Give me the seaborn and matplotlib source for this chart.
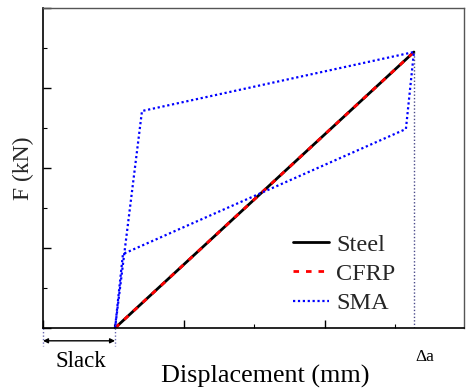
import matplotlib
matplotlib.use("Agg")
import matplotlib.pyplot as plt
from matplotlib.ticker import MultipleLocator, NullFormatter
import seaborn as sns
import pandas as pd

# Load-displacement paths (normalised units)
steel_x = [0.511, 2.631]
steel_y = [0.0, 3.45]
cfrp_x = [0.511, 2.631]
cfrp_y = [0.0, 3.45]
sma_x = [0.511, 0.702, 2.631, 2.574, 0.567, 0.511]
sma_y = [0.0, 2.7125, 3.45, 2.4875, 0.925, 0.0]

slack_start = 0.0
slack_end = 0.511
delta_a = 2.631

sns.set_theme(style="ticks")
plt.rcParams["font.family"] = ["Liberation Serif", "DejaVu Serif"]

fig = plt.figure(figsize=(4.66, 3.89), dpi=100)
ax = fig.add_axes([0.0923, 0.1568, 0.9034, 0.8226])

df = pd.concat([
    pd.DataFrame({"x": steel_x, "y": steel_y, "Material": "Steel", "order": range(len(steel_x))}),
    pd.DataFrame({"x": cfrp_x, "y": cfrp_y, "Material": "CFRP", "order": range(len(cfrp_x))}),
    pd.DataFrame({"x": sma_x, "y": sma_y, "Material": "SMA", "order": range(len(sma_x))}),
], ignore_index=True)

palette = {"Steel": "black", "CFRP": "#ff0000", "SMA": "#0000ff"}
widths = {"Steel": 2.0, "CFRP": 2.0, "SMA": 1.6}
styles = {"Steel": "-", "CFRP": (0, (2, 2.5)), "SMA": (0, (1, 1.2))}

for name in ["Steel", "CFRP", "SMA"]:
    sub = df[df["Material"] == name]
    sns.lineplot(data=sub, x="x", y="y", sort=False, estimator=None, ax=ax,
                 color=palette[name], linewidth=widths[name],
                 linestyle=styles[name], label=name)

ax.set_xlim(0, 2.986)
ax.set_ylim(0, 4.0)

# Delta a marker line
ax.plot([delta_a, delta_a], [0, 3.45], color="#4a4a8a", linestyle=(0, (1, 1.5)), linewidth=1.0)

# Slack dimension below the axis
for xv in (slack_start, slack_end):
    ax.plot([xv, xv], [0, -0.22], color="#6a6ab0", linestyle=(0, (1, 1.5)),
            linewidth=1.0, clip_on=False)
ax.annotate("", xy=(slack_start, -0.16), xytext=(slack_end, -0.16),
            xycoords="data", textcoords="data", annotation_clip=False,
            arrowprops=dict(arrowstyle="<|-|>", color="black", lw=1.0,
                            mutation_scale=7, shrinkA=0, shrinkB=0))
ax.text((slack_start + slack_end) / 2 + 0.01, -0.42, "Slack", ha="center", va="center",
        fontsize=16.5, color="black")
ax.text(delta_a + 0.075, -0.36, "\u0394a", ha="center", va="center", fontsize=12.5, color="black")

ax.set_ylabel("F (kN)", fontsize=17, labelpad=3)
ax.set_xlabel("")
# Axis title placed near the bottom edge of the figure
fig.text(0.5 * (43 + 464) / 466 + 0.026, 0.003, "Displacement (mm)", ha="center", va="bottom",
         fontsize=18.8, color="black")

ax.xaxis.set_major_locator(MultipleLocator(1.0))
ax.xaxis.set_minor_locator(MultipleLocator(0.5))
ax.yaxis.set_major_locator(MultipleLocator(1.0))
ax.yaxis.set_minor_locator(MultipleLocator(0.5))
ax.xaxis.set_major_formatter(NullFormatter())
ax.yaxis.set_major_formatter(NullFormatter())
ax.tick_params(which="both", direction="in", top=False, right=False, color="black")
ax.tick_params(which="major", length=6, width=1.0)
ax.tick_params(which="minor", length=3, width=0.8)

for side in ("left", "bottom"):
    ax.spines[side].set_color("black")
    ax.spines[side].set_linewidth(1.2)
for side in ("top", "right"):
    ax.spines[side].set_color("#555555")
    ax.spines[side].set_linewidth(1.0)

leg = ax.legend(loc="lower left", bbox_to_anchor=(0.541, -0.025), frameon=False,
                fontsize=17.5, handlelength=1.5, handletextpad=0.3, labelspacing=0.3)

fig.savefig("out.png", dpi=100)
